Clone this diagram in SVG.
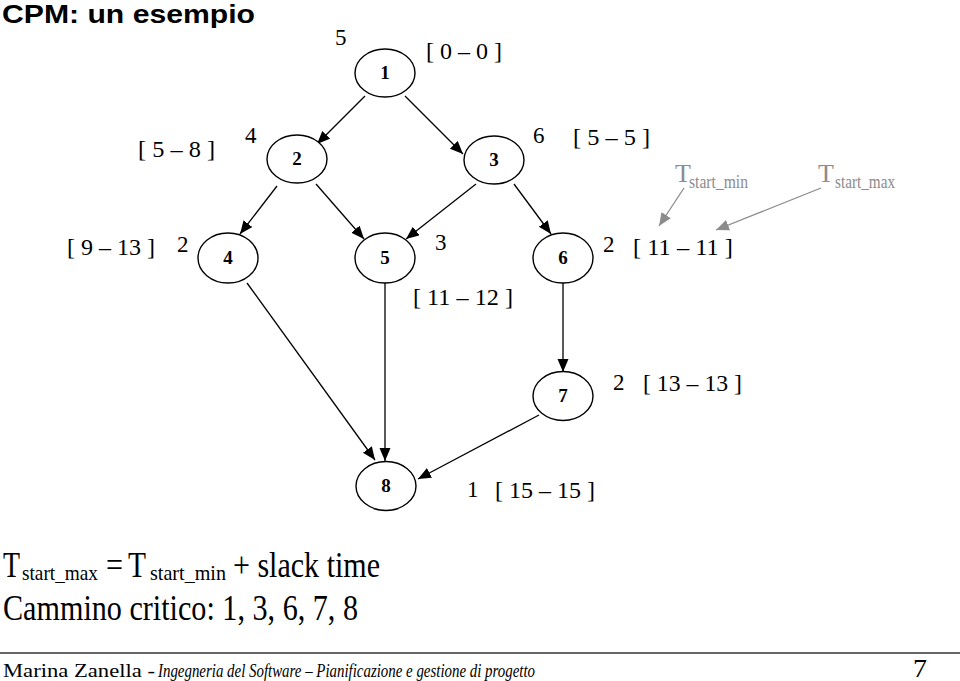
<svg xmlns="http://www.w3.org/2000/svg" width="960" height="681" viewBox="0 0 960 681">
<defs>
<marker id="arr" markerUnits="userSpaceOnUse" markerWidth="14" markerHeight="12" refX="13" refY="5.5" orient="auto">
<path d="M0,0 L13,5.5 L0,11 Z" fill="#000"/>
</marker>
<marker id="arrg" markerUnits="userSpaceOnUse" markerWidth="14" markerHeight="12" refX="13" refY="5.5" orient="auto">
<path d="M0,0 L13,5.5 L0,11 Z" fill="#8c8c8c"/>
</marker>
<style>
.node ellipse{fill:#fff;stroke:#000;stroke-width:1.4}
.node text{font-family:"Liberation Serif","Times New Roman",serif;font-weight:bold;font-size:19px;text-anchor:middle}
.lbl{font-family:"Liberation Serif","Times New Roman",serif;font-size:23px;fill:#000}
.edge{stroke:#000;stroke-width:1.3;fill:none;marker-end:url(#arr)}
.gedge{stroke:#8c8c8c;stroke-width:1.3;fill:none;marker-end:url(#arrg)}
.g{font-family:"Liberation Serif","Times New Roman",serif;fill:#8c8c8c}
.f{font-family:"Liberation Serif","Times New Roman",serif;fill:#000}
</style>
</defs>
<rect width="960" height="681" fill="#fff"/>
<text x="2" y="23" font-family="Liberation Sans,Arial,sans-serif" font-weight="bold" font-size="26" textLength="253" lengthAdjust="spacingAndGlyphs">CPM: un esempio</text>

<g id="connectors">
<line class="edge" x1="365" y1="96" x2="317" y2="144"/>
<line class="edge" x1="405" y1="96" x2="463" y2="154"/>
<line class="edge" x1="277" y1="186" x2="240" y2="234"/>
<line class="edge" x1="316" y1="184" x2="364" y2="239"/>
<line class="edge" x1="476" y1="184" x2="406" y2="239"/>
<line class="edge" x1="514" y1="184" x2="551" y2="234"/>
<line class="edge" x1="247" y1="283" x2="375" y2="460"/>
<line class="edge" x1="385" y1="283" x2="385" y2="461"/>
<line class="edge" x1="563" y1="283" x2="563" y2="372"/>
<line class="edge" x1="539" y1="415" x2="418" y2="479"/>
<line class="gedge" x1="684" y1="188" x2="659" y2="226"/>
<line class="gedge" x1="821" y1="188" x2="716" y2="230"/>
</g>

<g id="n1" class="node"><ellipse cx="385" cy="73" rx="30" ry="24"/><text x="385" y="79">1</text></g>
<g id="n2" class="node"><ellipse cx="297" cy="159" rx="30" ry="24"/><text x="297" y="165">2</text></g>
<g id="n3" class="node"><ellipse cx="494" cy="160" rx="30" ry="24"/><text x="494" y="166">3</text></g>
<g id="n4" class="node"><ellipse cx="228" cy="258" rx="30" ry="25"/><text x="228" y="264">4</text></g>
<g id="n5" class="node"><ellipse cx="385" cy="258" rx="30" ry="25"/><text x="385" y="264">5</text></g>
<g id="n6" class="node"><ellipse cx="563" cy="258" rx="30" ry="25"/><text x="563" y="264">6</text></g>
<g id="n7" class="node"><ellipse cx="563" cy="396" rx="30" ry="24.5"/><text x="563" y="402">7</text></g>
<g id="n8" class="node"><ellipse cx="386" cy="486" rx="30" ry="24.5"/><text x="386" y="492">8</text></g>

<g id="labels">
<text class="lbl" x="335" y="45">5</text>
<text class="lbl" x="426" y="59" textLength="76" lengthAdjust="spacingAndGlyphs">[ 0 – 0 ]</text>
<text class="lbl" x="138" y="157" textLength="77" lengthAdjust="spacingAndGlyphs">[ 5 – 8 ]</text>
<text class="lbl" x="245" y="143">4</text>
<text class="lbl" x="533" y="143">6</text>
<text class="lbl" x="573" y="145" textLength="77" lengthAdjust="spacingAndGlyphs">[ 5 – 5 ]</text>
<text class="lbl" x="67" y="255" textLength="88" lengthAdjust="spacingAndGlyphs">[ 9 – 13 ]</text>
<text class="lbl" x="177" y="252">2</text>
<text class="lbl" x="435" y="250">3</text>
<text class="lbl" x="413" y="305" textLength="100" lengthAdjust="spacingAndGlyphs">[ 11 – 12 ]</text>
<text class="lbl" x="603" y="252">2</text>
<text class="lbl" x="633" y="255" textLength="100" lengthAdjust="spacingAndGlyphs">[ 11 – 11 ]</text>
<text class="lbl" x="613" y="390">2</text>
<text class="lbl" x="643" y="391" textLength="99" lengthAdjust="spacingAndGlyphs">[ 13 – 13 ]</text>
<text class="lbl" x="467" y="497">1</text>
<text class="lbl" x="495" y="498" textLength="100" lengthAdjust="spacingAndGlyphs">[ 15 – 15 ]</text>
</g>

<g id="legend">
<text class="g" x="675" y="182" font-size="26">T</text>
<text class="g" x="689" y="188" font-size="18" textLength="59" lengthAdjust="spacingAndGlyphs">start_min</text>
<text class="g" x="818" y="182" font-size="26">T</text>
<text class="g" x="835" y="188" font-size="18" textLength="60" lengthAdjust="spacingAndGlyphs">start_max</text>
</g>

<g id="notes">
<text class="f" x="3" y="577" font-size="35" textLength="17" lengthAdjust="spacingAndGlyphs">T</text>
<text class="f" x="22" y="580" font-size="22" textLength="76" lengthAdjust="spacingAndGlyphs">start_max</text>
<text class="f" x="106" y="577" font-size="35" textLength="17" lengthAdjust="spacingAndGlyphs">=</text>
<text class="f" x="128" y="577" font-size="35" textLength="18" lengthAdjust="spacingAndGlyphs">T</text>
<text class="f" x="150" y="580" font-size="22" textLength="76" lengthAdjust="spacingAndGlyphs">start_min</text>
<text class="f" x="233" y="577" font-size="35" textLength="147" lengthAdjust="spacingAndGlyphs">+ slack time</text>
<text class="f" x="3" y="620" font-size="35" textLength="355" lengthAdjust="spacingAndGlyphs">Cammino critico: 1, 3, 6, 7, 8</text>
</g>

<g id="footer">
<line x1="0" y1="653" x2="960" y2="653" stroke="#666" stroke-width="2"/>
<text class="f" x="3" y="677" font-size="18" textLength="152" lengthAdjust="spacingAndGlyphs">Marina Zanella -</text>
<text class="f" x="158" y="677" font-size="18" font-style="italic" textLength="377" lengthAdjust="spacingAndGlyphs">Ingegneria del Software – Pianificazione e gestione di progetto</text>
<text class="f" x="913" y="677" font-size="25" textLength="14" lengthAdjust="spacingAndGlyphs">7</text>
</g>
</svg>
